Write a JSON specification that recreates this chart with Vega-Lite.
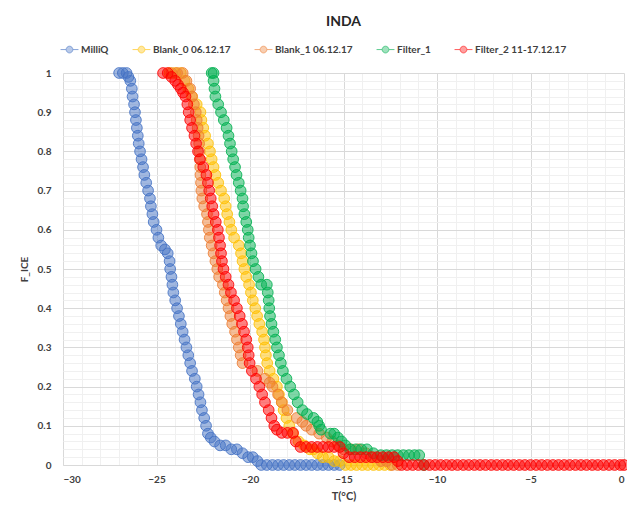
{
  "$schema": "https://vega.github.io/schema/vega-lite/v6.json",
  "width": 561,
  "height": 392,
  "autosize": {"type": "none"},
  "padding": {"left": 63, "top": 73, "right": 3, "bottom": 43},
  "background": "white",
  "title": {"text": "INDA", "fontSize": 14, "font": "Lato", "fontWeight": "bold", "color": "#262626", "anchor": "middle", "offset": 14},
  "config": {
    "view": {"stroke": null},
    "font": "Lato",
    "point": {"filled": false, "size": 115, "fillOpacity": 0.5, "strokeOpacity": 0.85, "strokeWidth": 1}
  },
  "datasets": {
    "m": [{"t":-27.0,"f":1},{"t":-26.8,"f":1},{"t":-26.6,"f":1},{"t":-26.5,"f":0.99},{"t":-26.4,"f":0.98},{"t":-26.32,"f":0.96},{"t":-26.28,"f":0.94},{"t":-26.2,"f":0.92},{"t":-26.15,"f":0.9},{"t":-26.1,"f":0.88},{"t":-26.05,"f":0.86},{"t":-26.0,"f":0.84},{"t":-25.95,"f":0.82},{"t":-25.88,"f":0.8},{"t":-25.8,"f":0.78},{"t":-25.72,"f":0.76},{"t":-25.65,"f":0.74},{"t":-25.55,"f":0.72},{"t":-25.45,"f":0.7},{"t":-25.35,"f":0.68},{"t":-25.3,"f":0.66},{"t":-25.22,"f":0.64},{"t":-25.15,"f":0.62},{"t":-25.0,"f":0.6},{"t":-24.9,"f":0.58},{"t":-24.75,"f":0.56},{"t":-24.55,"f":0.55},{"t":-24.4,"f":0.54},{"t":-24.3,"f":0.52},{"t":-24.27,"f":0.5},{"t":-24.2,"f":0.48},{"t":-24.15,"f":0.46},{"t":-24.1,"f":0.44},{"t":-24.0,"f":0.42},{"t":-23.9,"f":0.4},{"t":-23.8,"f":0.38},{"t":-23.7,"f":0.36},{"t":-23.6,"f":0.34},{"t":-23.5,"f":0.32},{"t":-23.4,"f":0.3},{"t":-23.3,"f":0.28},{"t":-23.2,"f":0.26},{"t":-23.1,"f":0.24},{"t":-22.95,"f":0.22},{"t":-22.85,"f":0.2},{"t":-22.75,"f":0.18},{"t":-22.65,"f":0.16},{"t":-22.57,"f":0.14},{"t":-22.45,"f":0.12},{"t":-22.35,"f":0.1},{"t":-22.25,"f":0.08},{"t":-22.1,"f":0.07},{"t":-21.9,"f":0.06},{"t":-21.6,"f":0.05},{"t":-21.3,"f":0.05},{"t":-21.0,"f":0.04},{"t":-20.7,"f":0.04},{"t":-20.4,"f":0.03},{"t":-20.1,"f":0.02},{"t":-19.85,"f":0.02},{"t":-19.6,"f":0.01},{"t":-19.4,"f":0},{"t":-19.1,"f":0},{"t":-18.8,"f":0},{"t":-18.5,"f":0},{"t":-18.2,"f":0},{"t":-17.9,"f":0},{"t":-17.6,"f":0},{"t":-17.3,"f":0},{"t":-17.0,"f":0},{"t":-16.7,"f":0},{"t":-16.4,"f":0},{"t":-16.1,"f":0},{"t":-15.8,"f":0},{"t":-15.5,"f":0},{"t":-15.2,"f":0}],
    "b0": [{"t":-24.3,"f":1},{"t":-24.0,"f":1},{"t":-23.7,"f":1},{"t":-23.5,"f":0.98},{"t":-23.3,"f":0.96},{"t":-23.1,"f":0.94},{"t":-22.85,"f":0.92},{"t":-22.65,"f":0.9},{"t":-22.6,"f":0.88},{"t":-22.5,"f":0.86},{"t":-22.4,"f":0.84},{"t":-22.25,"f":0.82},{"t":-22.14,"f":0.8},{"t":-22.05,"f":0.78},{"t":-21.95,"f":0.76},{"t":-21.85,"f":0.74},{"t":-21.7,"f":0.72},{"t":-21.55,"f":0.7},{"t":-21.38,"f":0.68},{"t":-21.3,"f":0.66},{"t":-21.22,"f":0.64},{"t":-21.1,"f":0.62},{"t":-21.0,"f":0.6},{"t":-20.85,"f":0.58},{"t":-20.6,"f":0.56},{"t":-20.48,"f":0.54},{"t":-20.4,"f":0.52},{"t":-20.3,"f":0.5},{"t":-20.2,"f":0.48},{"t":-20.05,"f":0.46},{"t":-19.95,"f":0.44},{"t":-19.85,"f":0.42},{"t":-19.72,"f":0.4},{"t":-19.62,"f":0.38},{"t":-19.5,"f":0.36},{"t":-19.35,"f":0.34},{"t":-19.25,"f":0.32},{"t":-19.2,"f":0.3},{"t":-19.15,"f":0.28},{"t":-19.08,"f":0.26},{"t":-18.95,"f":0.24},{"t":-18.75,"f":0.22},{"t":-18.56,"f":0.2},{"t":-18.45,"f":0.18},{"t":-18.3,"f":0.16},{"t":-18.2,"f":0.14},{"t":-18.05,"f":0.12},{"t":-17.9,"f":0.1},{"t":-17.7,"f":0.08},{"t":-17.4,"f":0.06},{"t":-17.1,"f":0.05},{"t":-16.8,"f":0.04},{"t":-16.6,"f":0.04},{"t":-16.4,"f":0.03},{"t":-16.1,"f":0.02},{"t":-15.8,"f":0.02},{"t":-15.5,"f":0.01},{"t":-15.2,"f":0.01},{"t":-14.9,"f":0},{"t":-14.6,"f":0},{"t":-14.3,"f":0},{"t":-14.0,"f":0},{"t":-13.7,"f":0},{"t":-13.4,"f":0},{"t":-13.1,"f":0},{"t":-12.8,"f":0},{"t":-12.5,"f":0}],
    "b1": [{"t":-24.2,"f":1},{"t":-23.9,"f":1},{"t":-23.6,"f":1},{"t":-23.4,"f":0.98},{"t":-23.2,"f":0.96},{"t":-23.1,"f":0.94},{"t":-23.0,"f":0.92},{"t":-22.9,"f":0.9},{"t":-22.85,"f":0.88},{"t":-22.8,"f":0.86},{"t":-22.75,"f":0.84},{"t":-22.72,"f":0.82},{"t":-22.7,"f":0.8},{"t":-22.68,"f":0.78},{"t":-22.66,"f":0.76},{"t":-22.65,"f":0.74},{"t":-22.62,"f":0.72},{"t":-22.6,"f":0.7},{"t":-22.55,"f":0.68},{"t":-22.45,"f":0.66},{"t":-22.3,"f":0.64},{"t":-22.25,"f":0.62},{"t":-22.2,"f":0.6},{"t":-22.15,"f":0.58},{"t":-22.05,"f":0.56},{"t":-21.95,"f":0.54},{"t":-21.85,"f":0.52},{"t":-21.75,"f":0.5},{"t":-21.65,"f":0.48},{"t":-21.45,"f":0.46},{"t":-21.35,"f":0.44},{"t":-21.25,"f":0.42},{"t":-21.15,"f":0.4},{"t":-21.05,"f":0.38},{"t":-20.95,"f":0.36},{"t":-20.8,"f":0.34},{"t":-20.7,"f":0.32},{"t":-20.6,"f":0.3},{"t":-20.5,"f":0.28},{"t":-20.4,"f":0.26},{"t":-19.6,"f":0.24},{"t":-19.2,"f":0.22},{"t":-18.95,"f":0.21},{"t":-18.8,"f":0.2},{"t":-18.5,"f":0.18},{"t":-18.3,"f":0.16},{"t":-18.0,"f":0.14},{"t":-17.5,"f":0.12},{"t":-17.2,"f":0.11},{"t":-17.0,"f":0.1},{"t":-16.7,"f":0.09},{"t":-16.3,"f":0.08},{"t":-15.9,"f":0.07},{"t":-15.6,"f":0.06},{"t":-15.3,"f":0.05},{"t":-15.0,"f":0.04},{"t":-14.6,"f":0.04},{"t":-14.2,"f":0.04},{"t":-13.8,"f":0.03},{"t":-13.4,"f":0.02},{"t":-13.0,"f":0.01},{"t":-12.7,"f":0.01},{"t":-12.4,"f":0},{"t":-12.1,"f":0}],
    "f1": [{"t":-22.05,"f":1},{"t":-21.95,"f":1},{"t":-21.95,"f":0.98},{"t":-21.9,"f":0.96},{"t":-21.85,"f":0.94},{"t":-21.7,"f":0.92},{"t":-21.55,"f":0.9},{"t":-21.4,"f":0.88},{"t":-21.25,"f":0.86},{"t":-21.15,"f":0.84},{"t":-21.07,"f":0.82},{"t":-20.98,"f":0.8},{"t":-20.9,"f":0.78},{"t":-20.8,"f":0.76},{"t":-20.72,"f":0.74},{"t":-20.6,"f":0.72},{"t":-20.5,"f":0.7},{"t":-20.4,"f":0.68},{"t":-20.37,"f":0.66},{"t":-20.3,"f":0.64},{"t":-20.2,"f":0.62},{"t":-20.12,"f":0.6},{"t":-20.07,"f":0.58},{"t":-20.0,"f":0.56},{"t":-19.92,"f":0.54},{"t":-19.84,"f":0.52},{"t":-19.7,"f":0.5},{"t":-19.55,"f":0.48},{"t":-19.4,"f":0.46},{"t":-19.1,"f":0.46},{"t":-19.05,"f":0.44},{"t":-19.0,"f":0.42},{"t":-18.97,"f":0.4},{"t":-18.93,"f":0.38},{"t":-18.85,"f":0.36},{"t":-18.75,"f":0.34},{"t":-18.65,"f":0.32},{"t":-18.56,"f":0.3},{"t":-18.45,"f":0.28},{"t":-18.35,"f":0.26},{"t":-18.24,"f":0.24},{"t":-18.05,"f":0.22},{"t":-17.85,"f":0.2},{"t":-17.65,"f":0.18},{"t":-17.45,"f":0.16},{"t":-17.2,"f":0.14},{"t":-16.95,"f":0.13},{"t":-16.6,"f":0.12},{"t":-16.4,"f":0.11},{"t":-16.3,"f":0.1},{"t":-16.2,"f":0.09},{"t":-15.7,"f":0.08},{"t":-15.5,"f":0.08},{"t":-15.3,"f":0.07},{"t":-15.1,"f":0.06},{"t":-14.9,"f":0.05},{"t":-14.65,"f":0.04},{"t":-14.35,"f":0.04},{"t":-14.05,"f":0.04},{"t":-13.75,"f":0.04},{"t":-13.4,"f":0.03},{"t":-13.0,"f":0.025},{"t":-12.7,"f":0.025},{"t":-12.4,"f":0.025},{"t":-12.1,"f":0.025},{"t":-11.8,"f":0.025},{"t":-11.5,"f":0.025},{"t":-11.2,"f":0.025},{"t":-10.95,"f":0.025},{"t":-10.7,"f":0}],
    "f2": [{"t":-24.65,"f":1},{"t":-24.4,"f":1},{"t":-24.2,"f":0.99},{"t":-24.0,"f":0.98},{"t":-23.85,"f":0.97},{"t":-23.7,"f":0.96},{"t":-23.58,"f":0.95},{"t":-23.45,"f":0.94},{"t":-23.35,"f":0.92},{"t":-23.28,"f":0.9},{"t":-23.2,"f":0.88},{"t":-23.1,"f":0.86},{"t":-22.97,"f":0.84},{"t":-22.88,"f":0.82},{"t":-22.78,"f":0.8},{"t":-22.67,"f":0.78},{"t":-22.5,"f":0.76},{"t":-22.33,"f":0.74},{"t":-22.25,"f":0.72},{"t":-22.18,"f":0.7},{"t":-22.1,"f":0.68},{"t":-22.02,"f":0.66},{"t":-21.95,"f":0.64},{"t":-21.83,"f":0.62},{"t":-21.72,"f":0.6},{"t":-21.66,"f":0.58},{"t":-21.6,"f":0.56},{"t":-21.55,"f":0.54},{"t":-21.5,"f":0.52},{"t":-21.42,"f":0.5},{"t":-21.3,"f":0.48},{"t":-21.15,"f":0.46},{"t":-21.02,"f":0.44},{"t":-20.85,"f":0.42},{"t":-20.7,"f":0.4},{"t":-20.55,"f":0.38},{"t":-20.43,"f":0.36},{"t":-20.32,"f":0.34},{"t":-20.2,"f":0.32},{"t":-20.12,"f":0.3},{"t":-20.07,"f":0.28},{"t":-20.02,"f":0.26},{"t":-19.9,"f":0.24},{"t":-19.68,"f":0.22},{"t":-19.5,"f":0.2},{"t":-19.35,"f":0.18},{"t":-19.2,"f":0.16},{"t":-19.0,"f":0.14},{"t":-18.85,"f":0.12},{"t":-18.7,"f":0.1},{"t":-18.56,"f":0.09},{"t":-18.3,"f":0.082},{"t":-18.0,"f":0.082},{"t":-17.7,"f":0.082},{"t":-17.55,"f":0.06},{"t":-17.3,"f":0.046},{"t":-17.0,"f":0.046},{"t":-16.7,"f":0.046},{"t":-16.4,"f":0.046},{"t":-16.1,"f":0.046},{"t":-15.8,"f":0.046},{"t":-15.5,"f":0.046},{"t":-15.2,"f":0.046},{"t":-15.0,"f":0.03},{"t":-14.7,"f":0.02},{"t":-14.4,"f":0.02},{"t":-14.1,"f":0.02},{"t":-13.8,"f":0.02},{"t":-13.5,"f":0.02},{"t":-13.2,"f":0.02},{"t":-12.9,"f":0.02},{"t":-12.6,"f":0.02},{"t":-12.3,"f":0.02},{"t":-12.1,"f":0.01},{"t":-11.9,"f":0},{"t":-11.6,"f":0},{"t":-11.3,"f":0},{"t":-11.0,"f":0},{"t":-10.7,"f":0},{"t":-10.4,"f":0},{"t":-10.1,"f":0},{"t":-9.8,"f":0},{"t":-9.5,"f":0},{"t":-9.2,"f":0},{"t":-8.9,"f":0},{"t":-8.6,"f":0},{"t":-8.3,"f":0},{"t":-8.0,"f":0},{"t":-7.7,"f":0},{"t":-7.4,"f":0},{"t":-7.1,"f":0},{"t":-6.8,"f":0},{"t":-6.5,"f":0},{"t":-6.2,"f":0},{"t":-5.9,"f":0},{"t":-5.6,"f":0},{"t":-5.3,"f":0},{"t":-5.0,"f":0},{"t":-4.7,"f":0},{"t":-4.4,"f":0},{"t":-4.1,"f":0},{"t":-3.8,"f":0},{"t":-3.5,"f":0},{"t":-3.2,"f":0},{"t":-2.9,"f":0},{"t":-2.6,"f":0},{"t":-2.3,"f":0},{"t":-2.0,"f":0},{"t":-1.7,"f":0},{"t":-1.4,"f":0},{"t":-1.1,"f":0},{"t":-0.8,"f":0},{"t":-0.5,"f":0},{"t":-0.2,"f":0},{"t":0,"f":0}]
  },
  "encoding": {
    "x": {
      "field": "t", "type": "quantitative",
      "scale": {"domain": [-30, 0], "nice": false, "zero": false},
      "axis": {
        "title": "T(°C)", "titleFontSize": 11, "titleFontWeight": "bold", "titleColor": "#404040", "titlePadding": 6,
        "values": [-30,-29,-28,-27,-26,-25,-24,-23,-22,-21,-20,-19,-18,-17,-16,-15,-14,-13,-12,-11,-10,-9,-8,-7,-6,-5,-4,-3,-2,-1,0],
        "labelExpr": "datum.value % 5 === 0 ? datum.label : ''",
        "labelFontSize": 10, "labelFontWeight": "bold", "labelColor": "#404040", "labelPadding": 9,
        "ticks": false, "domainColor": "#d9d9d9",
        "gridColor": {"condition": {"test": "datum.value % 5 === 0", "value": "#d9d9d9"}, "value": "#f0f0f0"},
        "labelOverlap": false
      }
    },
    "y": {
      "field": "f", "type": "quantitative",
      "scale": {"domain": [0, 1], "nice": false},
      "axis": {
        "title": "F_ICE", "titleFontSize": 10, "titleFontWeight": "bold", "titleColor": "#404040", "titlePadding": 8,
        "values": [0,0.02,0.04,0.06,0.08,0.1,0.12,0.14,0.16,0.18,0.2,0.22,0.24,0.26,0.28,0.3,0.32,0.34,0.36,0.38,0.4,0.42,0.44,0.46,0.48,0.5,0.52,0.54,0.56,0.58,0.6,0.62,0.64,0.66,0.68,0.7,0.72,0.74,0.76,0.78,0.8,0.82,0.84,0.86,0.88,0.9,0.92,0.94,0.96,0.98,1],
        "labelExpr": "abs(datum.value*10 - round(datum.value*10)) < 0.001 ? format(datum.value, '~g') : ''",
        "labelFontSize": 10, "labelFontWeight": "bold", "labelColor": "#404040", "labelPadding": 12,
        "ticks": false, "domain": false,
        "gridColor": {"condition": {"test": "abs(datum.value*10 - round(datum.value*10)) < 0.001", "value": "#d9d9d9"}, "value": "#f0f0f0"},
        "labelOverlap": false
      }
    },
    "color": {
      "type": "nominal",
      "scale": {
        "domain": ["MilliQ", "Blank_0 06.12.17", "Blank_1 06.12.17", "Filter_1", "Filter_2 11-17.12.17"],
        "range": ["#4472C4", "#FFC000", "#ED7D31", "#00B050", "#FF0000"]
      },
      "legend": {
        "orient": "top", "direction": "horizontal", "title": null,
        "labelFontSize": 10, "labelFontWeight": "bold", "labelColor": "#404040",
        "symbolType": "M-1.6,0H-0.6M0.6,0H1.6M-0.6,0A0.6,0.6 0 1,0 0.6,0A0.6,0.6 0 1,0 -0.6,0",
        "symbolSize": 125, "symbolStrokeWidth": 1.3, "symbolOpacity": 0.75,
        "columnPadding": 21, "labelOffset": 5, "offset": 18
      }
    },
    "fill": {
      "type": "nominal",
      "scale": {
        "domain": ["MilliQ", "Blank_0 06.12.17", "Blank_1 06.12.17", "Filter_1", "Filter_2 11-17.12.17"],
        "range": ["#4472C4", "#FFC000", "#ED7D31", "#00B050", "#FF0000"]
      },
      "legend": null
    }
  },
  "layer": [
    {"data": {"name": "m"}, "mark": {"type": "point"}, "encoding": {"color": {"datum": "MilliQ"}, "fill": {"datum": "MilliQ"}}},
    {"data": {"name": "b0"}, "mark": {"type": "point"}, "encoding": {"color": {"datum": "Blank_0 06.12.17"}, "fill": {"datum": "Blank_0 06.12.17"}}},
    {"data": {"name": "b1"}, "mark": {"type": "point"}, "encoding": {"color": {"datum": "Blank_1 06.12.17"}, "fill": {"datum": "Blank_1 06.12.17"}}},
    {"data": {"name": "f1"}, "mark": {"type": "point"}, "encoding": {"color": {"datum": "Filter_1"}, "fill": {"datum": "Filter_1"}}},
    {"data": {"name": "f2"}, "mark": {"type": "point"}, "encoding": {"color": {"datum": "Filter_2 11-17.12.17"}, "fill": {"datum": "Filter_2 11-17.12.17"}}}
  ]
}
